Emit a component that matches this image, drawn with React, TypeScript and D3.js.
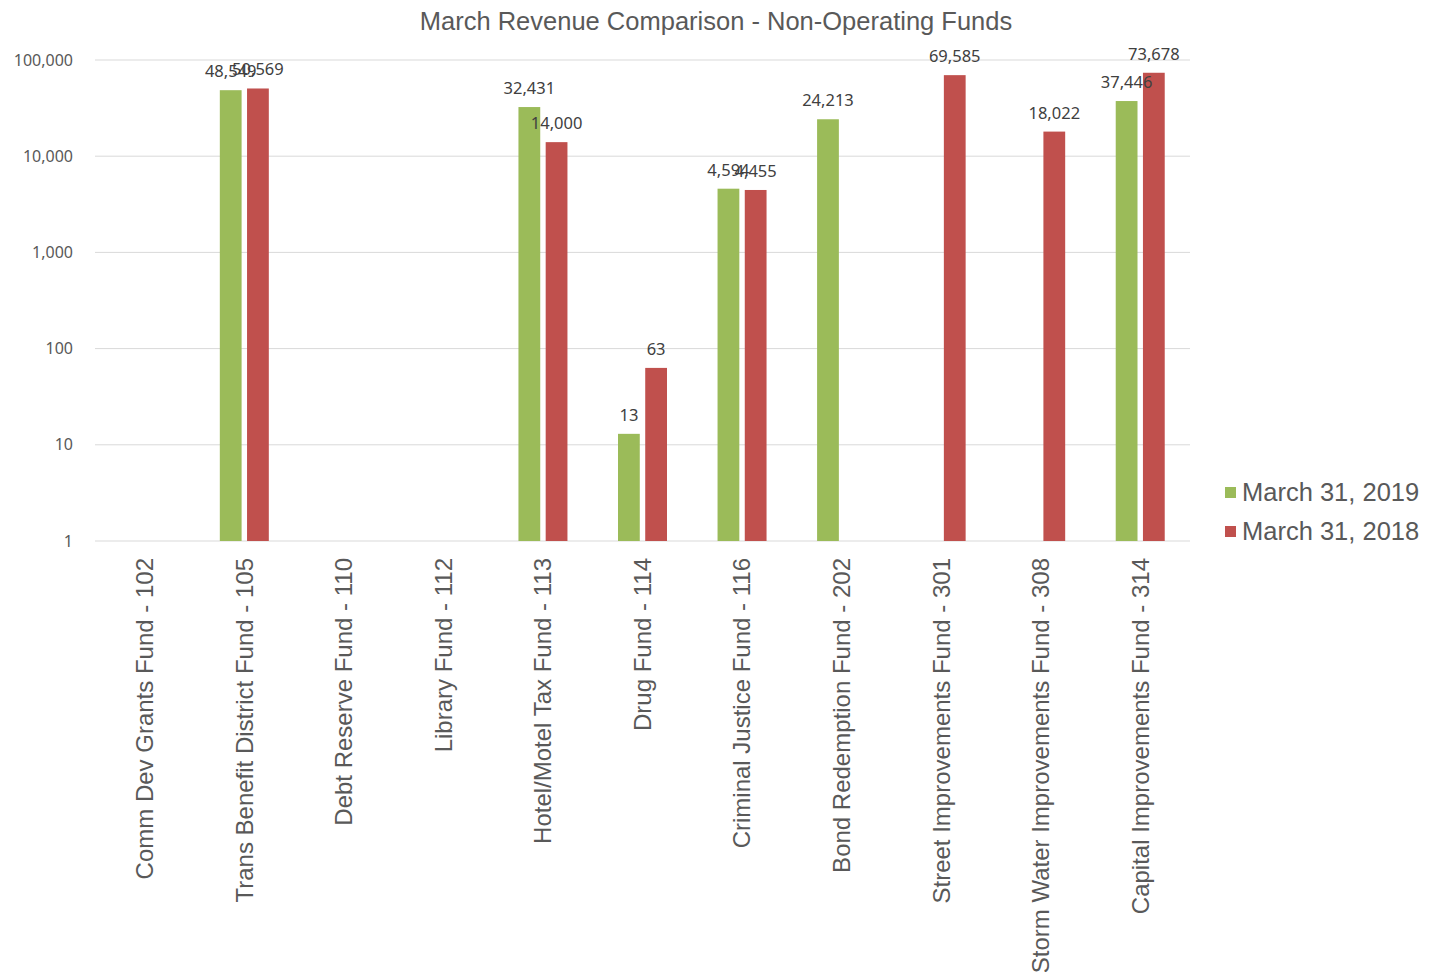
import React from "react";
import * as d3 from "d3";

const categories = [
  "Comm Dev Grants Fund - 102",
  "Trans Benefit District Fund - 105",
  "Debt Reserve Fund - 110",
  "Library Fund - 112",
  "Hotel/Motel Tax Fund - 113",
  "Drug Fund - 114",
  "Criminal Justice Fund - 116",
  "Bond Redemption Fund - 202",
  "Street Improvements Fund - 301",
  "Storm Water Improvements Fund - 308",
  "Capital Improvements Fund - 314",
];

const values2019: (number | null)[] = [null, 48549, null, null, 32431, 13, 4594, 24213, null, null, 37446];
const values2018: (number | null)[] = [null, 50569, null, null, 14000, 63, 4455, null, 69585, 18022, 73678];

const seriesNames = ["March 31, 2019", "March 31, 2018"];
const seriesColors = ["#9BBB59", "#C0504D"];
const yTicks = [1, 10, 100, 1000, 10000, 100000];

const W = 1435;
const H = 972;
const plot = { left: 95, right: 1190, top: 60, bottom: 541 };

export default function App() {
  const x = d3.scaleBand<string>().domain(categories).range([plot.left, plot.right]).paddingInner(0).paddingOuter(0);
  const inner = d3.scaleBand<number>().domain([0, 1]).range([-24.5, 24.5]).paddingInner(0.2);
  const y = d3.scaleLog().domain([1, 100000]).range([plot.bottom, plot.top]);
  const fmt = d3.format(",");
  const series = [values2019, values2018];

  return (
    <svg width={W} height={H} style={{ position: "absolute", left: 0, top: 0, background: "#fff" }}>
      <text x={716} y={30} textAnchor="middle" fontFamily="Liberation Sans, Arial" fontSize={25.5} fill="#595959">
        March Revenue Comparison - Non-Operating Funds
      </text>
      {yTicks.map((t) => (
        <g key={t}>
          <line x1={plot.left} x2={plot.right} y1={y(t)} y2={y(t)} stroke="#d9d9d9" strokeWidth={1} />
          <text x={73} y={y(t)} dy="0.35em" textAnchor="end" fontFamily="Noto Sans, sans-serif" fontSize={16} fill="#595959">
            {fmt(t)}
          </text>
        </g>
      ))}
      {series.map((vals, si) =>
        vals.map((v, ci) => {
          if (v == null) return null;
          const cx = (x(categories[ci]) as number) + x.bandwidth() / 2;
          const bx = cx + (inner(si) as number);
          const by = y(v);
          return (
            <rect key={`${si}-${ci}`} x={bx} y={by} width={inner.bandwidth()} height={plot.bottom - by} fill={seriesColors[si]} />
          );
        })
      )}
      {series.map((vals, si) =>
        vals.map((v, ci) => {
          if (v == null) return null;
          const cx = (x(categories[ci]) as number) + x.bandwidth() / 2;
          const bx = cx + (inner(si) as number) + inner.bandwidth() / 2;
          const by = y(v);
          return (
            <text key={`l${si}-${ci}`} x={bx} y={by - 13} textAnchor="middle" fontFamily="Noto Sans, sans-serif" fontSize={16.5} fill="#404040">
              {fmt(v)}
            </text>
          );
        })
      )}
      {categories.map((c) => {
        const cx = (x(c) as number) + x.bandwidth() / 2;
        return (
          <text
            key={c}
            transform={`translate(${cx},558) rotate(-90)`}
            dy="0.35em"
            textAnchor="end"
            fontFamily="Liberation Sans, Arial"
            fontSize={24}
            fill="#595959"
          >
            {c}
          </text>
        );
      })}
      {seriesNames.map((n, i) => (
        <g key={n} transform={`translate(1225,${492 + i * 39})`}>
          <rect x={0} y={-5} width={11} height={11} fill={seriesColors[i]} />
          <text x={17} y={0} dy="0.35em" fontFamily="Liberation Sans, Arial" fontSize={25.5} fill="#595959">
            {n}
          </text>
        </g>
      ))}
    </svg>
  );
}
